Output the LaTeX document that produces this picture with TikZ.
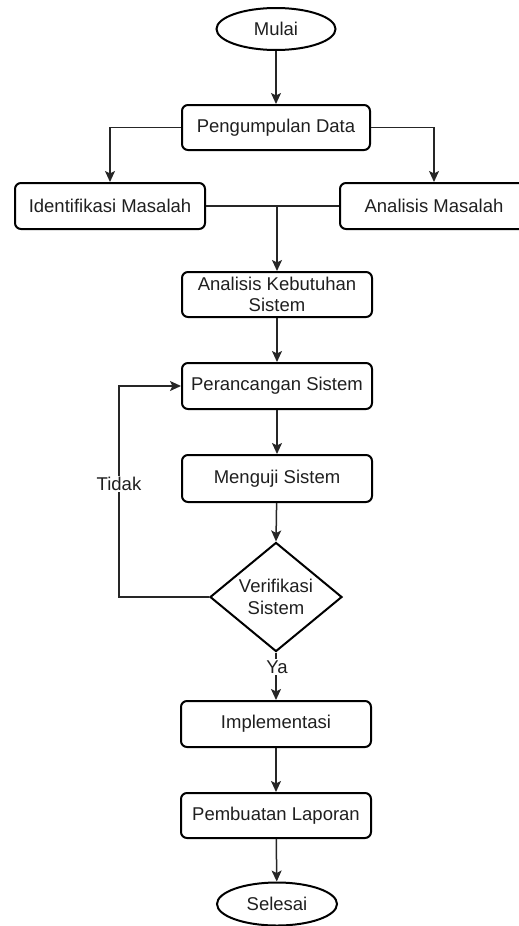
\documentclass[tikz,border=0pt]{standalone}
\usepackage{fontspec}
\setmainfont{Liberation Sans}
\usetikzlibrary{shapes.geometric,arrows.meta}
\begin{document}
\begin{tikzpicture}[x=1pt,y=-1pt,
  txt/.style={font=\fontsize{18.5}{21.5}\selectfont, text=black!88},
  box/.style={txt, draw, line width=2pt, rounded corners=6pt, minimum width=190pt, minimum height=46pt, inner sep=2pt, align=center},
  term/.style={txt, draw, ellipse, line width=2pt, minimum width=119pt, minimum height=42pt, inner sep=0pt},
  decision/.style={txt, draw, diamond, line width=2pt, minimum width=132pt, minimum height=94pt, inner sep=0pt, align=center},
  conn/.style={line width=1.5pt, draw=black!85},
  arr/.style={conn, -{Stealth[length=11pt,width=10pt,inset=2.5pt]}},
  lbl/.style={txt, fill=white, inner sep=1.5pt}
]
\useasboundingbox (0,0) rectangle (519,926);

\node[term] (mulai) at (276,29) {Mulai};
\node[box, minimum width=188pt, minimum height=45pt] (peng) at (276,127.5) {Pengumpulan Data};
\node[box] (iden) at (110,206) {Identifikasi Masalah};
\node[box, minimum width=188pt] (anal) at (434,206) {Analisis Masalah};
\node[box, minimum height=45pt] (kebut) at (277,294.5) {Analisis Kebutuhan\\Sistem};
\node[box] (peran) at (277,386) {Perancangan Sistem};
\node[box, minimum height=47pt] (uji) at (277,478.5) {Menguji Sistem};
\node[decision] (verif) at (276,597) {Verifikasi\\Sistem};
\node[box] (impl) at (276,724) {Implementasi};
\node[box, minimum height=45pt] (lapor) at (276,815.5) {Pembuatan Laporan};
\node[term, minimum width=120pt, minimum height=43pt] (selesai) at (277,904) {Selesai};

\coordinate (junc) at (kebut.north |- iden.east);
\coordinate (loopb) at (119,597);
\coordinate (loopt) at (119,386);

\draw[arr] (mulai) -- (peng);
\draw[arr] (peng.west) -| (iden.north);
\draw[arr] (peng.east) -| (anal.north);
\draw[conn] (iden.east) -- (anal.west);
\draw[arr] (junc) -- (kebut.north);
\draw[arr] (kebut) -- (peran);
\draw[arr] (peran) -- (uji);
\draw[arr] (uji) -- (verif.north);
\draw[arr] (verif.west) -- (loopb) -- (loopt) -- (peran.west);
\node[lbl] (tidak) at (119,484) {Tidak};
\draw[arr] (verif.south) -- (impl.north);
\node[lbl] (ya) at (277,667) {Ya};
\draw[arr] (impl) -- (lapor);
\draw[arr] (lapor) -- (selesai);
\end{tikzpicture}
\end{document}
